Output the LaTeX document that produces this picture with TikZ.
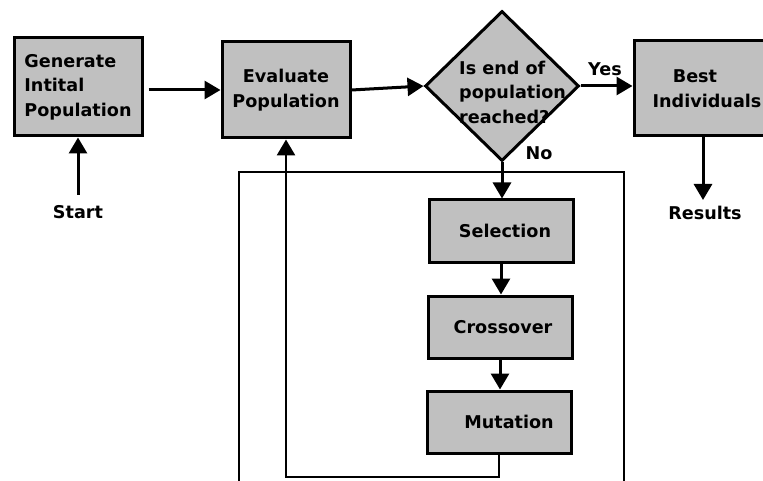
\documentclass[tikz,border=0pt]{standalone}
\usepackage{fontspec}
\setmainfont{DejaVu Sans}
\usetikzlibrary{arrows.meta,shapes.geometric}
\definecolor{boxgray}{HTML}{C0C0C0}
\begin{document}
\begin{tikzpicture}[x=1pt,y=-1pt,
  every node/.style={font=\bfseries\fontsize{17.6}{24.5}\selectfont},
  stepbox/.style={draw=black, line width=3pt, fill=boxgray, rectangle,
    inner sep=0pt, align=center},
  decision/.style={draw=black, line width=3pt, fill=boxgray, diamond,
    inner sep=0pt, minimum width=154pt, minimum height=150pt},
  lbl/.style={inner sep=1pt},
  conn/.style={line width=3pt, -{Triangle[length=16pt,width=18pt]}},
  plain/.style={line width=2.8pt}
]
\path[use as bounding box, clip] (0,0) rectangle (763,481);

% enclosing frame of the variation loop
\draw[plain] (239,500) -- (239,172) -- (624,172) -- (624,500);

% process boxes
\node[stepbox, minimum width=128pt, minimum height=98pt, align=left]
  (gen) at (78,87) {Generate\\Intital\\Population};
\node[stepbox, minimum width=128pt, minimum height=96pt]
  (eval) at (286,90) {Evaluate\\Population};
\node[decision] (dec) at (502,86) {};
\node[lbl, inner sep=0pt, align=left, anchor=west]
  (dectext) at (459,92) {Is end of\\population\\reached?};
\node[stepbox, minimum width=166pt, minimum height=95pt]
  (best) at (717,88.5) {Best\hspace*{44pt}\\Individuals\hspace*{20pt}};
\node[stepbox, minimum width=144pt, minimum height=62pt]
  (sel) at (501,231) {\hspace*{8pt}Selection};
\node[stepbox, minimum width=144pt, minimum height=62pt]
  (cro) at (500,327) {\hspace*{6pt}Crossover};
\node[stepbox, minimum width=144pt, minimum height=62pt]
  (mut) at (499,422) {\hspace*{20pt}Mutation};

% terminal labels
\node[lbl] (start) at (78,212) {Start};
\node[lbl] (results) at (705,213) {Results};
\node[lbl] (yes) at (605,69) {Yes};
\node[lbl] (no) at (539,153) {No};

% connectors
\draw[conn] (78,195) -- (gen.south);
\draw[conn, shorten <=5pt] (eval.west -| gen.east) -- (eval.west);
\draw[conn] (eval.east) -- (dec.west);
\draw[conn] (dec.east) -- (dec.east -| best.west);
\draw[conn] (best.south -| 703,0) -- (703,200);
\draw[conn] (dec.south) -- (dec.south |- sel.north);
\draw[conn] (sel.south) -- (sel.south |- cro.north);
\draw[conn] (cro.south) -- (cro.south |- mut.north);

% feedback from mutation to evaluation
\coordinate (loopcorner) at (286,477);
\draw[plain, -{Triangle[length=16pt,width=18pt]}]
  (mut.south) |- (loopcorner) -- (eval.south);
\end{tikzpicture}
\end{document}
